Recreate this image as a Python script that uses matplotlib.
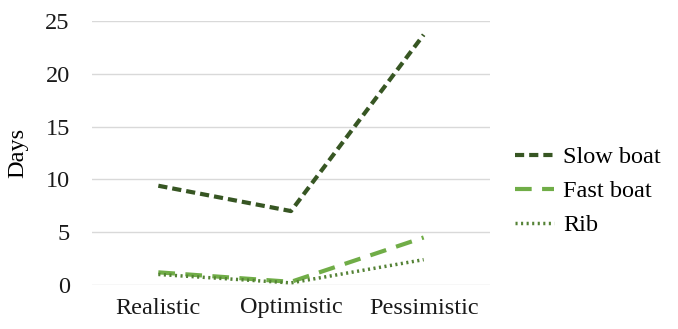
import matplotlib
matplotlib.use("Agg")
import matplotlib.pyplot as plt

categories = ["Realistic", "Optimistic", "Pessimistic"]
slow_boat = [9.4, 7.0, 23.7]
fast_boat = [1.2, 0.3, 4.5]
rib = [1.0, 0.2, 2.4]
yticks = [0, 5, 10, 15, 20, 25]

plt.rcParams['font.family'] = ['Liberation Serif', 'DejaVu Serif']

fig = plt.figure(figsize=(6.78, 3.29), dpi=100)
ax = fig.add_axes([92/678, 1-285/329, (490-92)/678, (285-21)/329])

x = list(range(len(categories)))
ax.plot(x, slow_boat, color='#375623', lw=3, linestyle=(0, (2.2, 1.2)), label='Slow boat')
ax.plot(x, fast_boat, color='#70AD47', lw=3, linestyle=(0, (4, 2.5)), label='Fast boat')
ax.plot(x, rib, color='#548235', lw=2.5, linestyle=(0, (0.6, 1.0)), label='Rib')

ax.set_xlim(-0.5, 2.5)
ax.set_ylim(0, 25)
ax.set_yticks(yticks)
ax.set_xticks(x)
ax.set_xticklabels(categories)
ax.grid(axis='y', color='#d9d9d9', lw=1)
ax.set_axisbelow(True)
for s in ax.spines.values():
    s.set_visible(False)
ax.tick_params(length=0, labelsize=17.5, colors='#1a1a1a')
ax.tick_params(axis='y', pad=16)
ax.tick_params(axis='x', pad=9)
ax.set_ylabel('Days', fontsize=17.5, labelpad=12)

leg = ax.legend(loc='center left', bbox_to_anchor=(1.007, 0.355), frameon=False,
                fontsize=17.5, handlelength=1.6, handletextpad=0.4, labelspacing=0.5)

fig.savefig('out.png', dpi=100)
